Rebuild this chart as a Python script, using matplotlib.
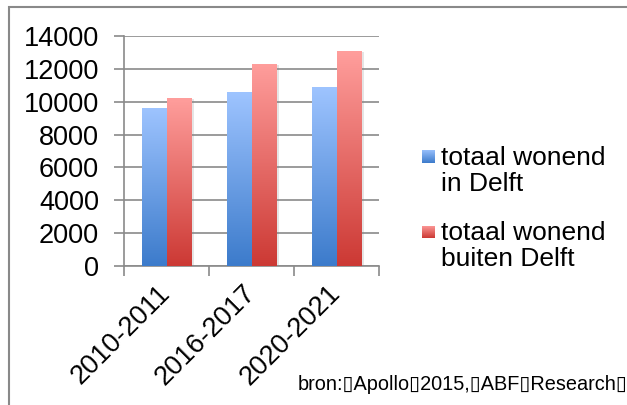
import numpy as np
import matplotlib
matplotlib.use("Agg")
import matplotlib.pyplot as plt
from matplotlib.patches import Rectangle
from matplotlib.colors import LinearSegmentedColormap
import matplotlib.patheffects as pe

# Data
periods = ["2010-2011", "2016-2017", "2020-2021"]
in_delft = [9650, 10600, 10900]
buiten_delft = [10250, 12330, 13100]
series_labels = ["totaal wonend\nin Delft", "totaal wonend\nbuiten Delft"]
source_text = "bron:\u25afApollo\u25af2015,\u25afABF\u25afResearch\u25af"

# gradient colours (top -> bottom)
blue_top, blue_bottom = "#9EC4FF", "#3C7BCB"
red_top, red_bottom = "#FF9E9C", "#CC3934"

plt.rcParams['font.family'] = ['Liberation Sans', 'DejaVu Sans']

fig = plt.figure(figsize=(6.27, 4.05), dpi=100)
ax = fig.add_axes([124 / 627, 1 - 265.7 / 405, 255 / 627, 229.4 / 405])

x = np.arange(len(periods))
w = 0.294
grad = np.linspace(1, 0, 256).reshape(-1, 1)


def gradient_bars(xpos, values, top, bottom):
    cmap = LinearSegmentedColormap.from_list("g", [bottom, top])
    bars = ax.bar(xpos, values, width=w, color=bottom, zorder=2, linewidth=0)
    for b in bars:
        b.set_path_effects([pe.SimplePatchShadow(offset=(2, -1), shadow_rgbFace="#808080", alpha=0.2),
                            pe.Normal()])
        x0, y0 = b.get_x(), b.get_y()
        im = ax.imshow(grad, cmap=cmap, aspect="auto", zorder=3,
                       extent=(x0, x0 + b.get_width(), y0, y0 + b.get_height()))
        im.set_clip_path(b)
    return bars


gradient_bars(x - w / 2, in_delft, blue_top, blue_bottom)
gradient_bars(x + w / 2, buiten_delft, red_top, red_bottom)

ax.set_xlim(-0.5, len(periods) - 0.5)
ax.set_ylim(0, 14000)
ax.set_yticks(np.arange(0, 14001, 2000))
ax.set_yticklabels([str(v) for v in range(0, 14001, 2000)], fontsize=19.5)
ax.yaxis.grid(True, color="#8a8a8a", linewidth=1.2, zorder=0)
ax.set_axisbelow(True)

ax.set_xticks(x)
ax.set_xticklabels(periods, fontsize=19.5, rotation=45, ha="right", va="center",
                   rotation_mode="anchor")
ax.set_xticks(np.arange(-0.5, len(periods)), minor=True)
ax.tick_params(axis="x", which="major", length=0, pad=17)
ax.tick_params(axis="x", which="minor", length=7, width=1.2, color="#8a8a8a", direction="out")
ax.tick_params(axis="y", length=7, width=1.2, color="#8a8a8a", pad=11)

for s in ["top", "right"]:
    ax.spines[s].set_visible(False)
for s in ["left", "bottom"]:
    ax.spines[s].set_color("#8a8a8a")
    ax.spines[s].set_linewidth(1.2)

# legend drawn by hand: square aligned with first text line
leg_colors = [(blue_top, blue_bottom), (red_top, red_bottom)]
leg_y = [157, 232]
for (top, bottom), lab, yy in zip(leg_colors, series_labels, leg_y):
    cmap = LinearSegmentedColormap.from_list("g", [bottom, top])
    lax = fig.add_axes([422 / 627, 1 - (yy + 6.5) / 405, 13 / 627, 13 / 405])
    lax.imshow(grad, cmap=cmap, aspect="auto")
    lax.axis("off")
    fig.text(441 / 627, 1 - (yy - 11) / 405, lab, fontsize=19, va="top", ha="left",
             linespacing=1.1)

fig.text(298 / 627, 1 - 385 / 405, source_text, fontsize=14.3, va="center", ha="left",
         family=["Liberation Sans", "DejaVu Sans"])

# outer frame
fig.patches.append(Rectangle((9 / 627, -0.1), 1.2, 1 - 7 / 405 + 0.1, transform=fig.transFigure,
                             fill=False, edgecolor="#898989", linewidth=1.5))

fig.savefig("out.png", dpi=100)
